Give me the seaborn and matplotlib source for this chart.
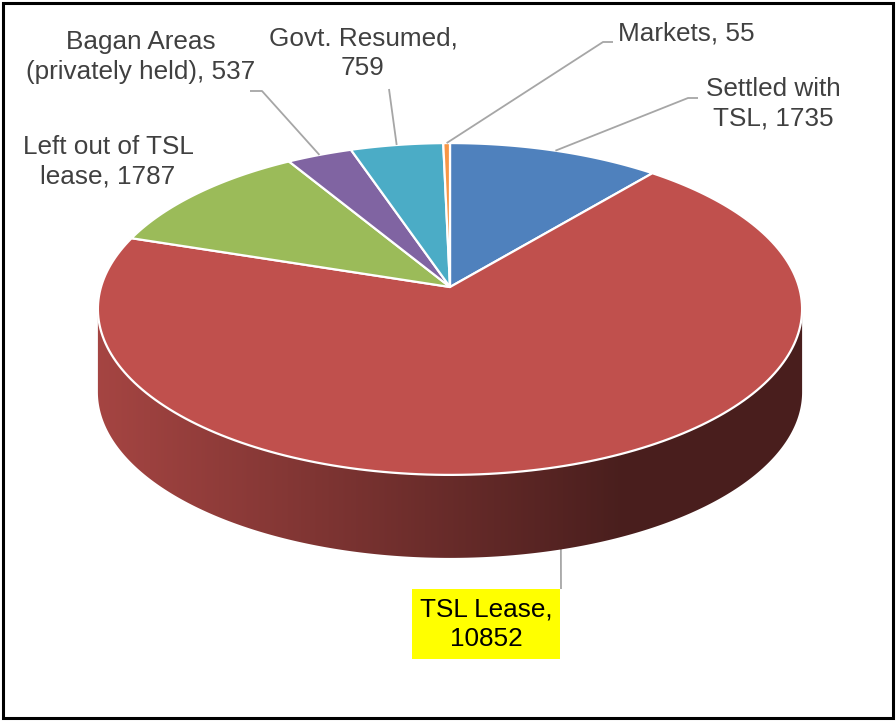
import numpy as np
import matplotlib
matplotlib.use("Agg")
import matplotlib.pyplot as plt
from matplotlib.patches import Polygon, Rectangle
import seaborn as sns

# --------------------------
# Data
# --------------------------
categories = ["Settled with\nTSL", "TSL Lease", "Left out of TSL\nlease",
              "Bagan Areas\n(privately held)", "Govt. Resumed", "Markets"]
values = [1735, 10852, 1787, 537, 759, 55]
colors = ["#4F81BD", "#C0504D", "#9BBB59", "#8064A2", "#4BACC6", "#F79646"]
label_texts = ["Settled with\nTSL, 1735", "TSL Lease,\n10852", "Left out of TSL\nlease, 1787",
               "Bagan Areas\n(privately held), 537", "Govt. Resumed,\n759", "Markets, 55"]

sns.set_theme(style="white")
plt.rcParams['font.family'] = ['Liberation Sans', 'DejaVu Sans']
palette = sns.color_palette(colors)

# --------------------------
# 3D pie geometry (pixel space)
# --------------------------
CX, CY = 450, 287      # apex of the pie
A, B = 349, 163        # horizontal / vertical radius
K = 0.1325             # perspective factor
DEPTH = 83             # thickness of the pie


def project(theta_deg):
    t = np.radians(theta_deg)
    u, v = np.cos(t), np.sin(t)
    s = 1 + K * v
    return CX + A * u / s, CY - B * v / s


vals = np.array(values, dtype=float)
total = vals.sum()
cum = np.concatenate([[0], np.cumsum(vals)])
starts = 90 - 360 * cum[:-1] / total
ends = 90 - 360 * cum[1:] / total
mids = (starts + ends) / 2

fig = plt.figure(figsize=(8.96, 7.21), dpi=100)
ax = fig.add_axes([0, 0, 1, 1])

# visible front wall spans from left silhouette to right silhouette
sil = np.degrees(np.arcsin(K))
vis_lo, vis_hi = -180 + sil, -sil


def shade_factor(x):
    return 0.86 - (0.86 - 0.385) * np.clip((x - 97) / (620 - 97), 0, 1)


# side wall with horizontal gradient, clipped to each slice's wall
for i in range(len(values)):
    hi, lo = starts[i], ends[i]
    for shift in (0, -360, 360):
        a0 = max(lo + shift, vis_lo)
        a1 = min(hi + shift, vis_hi)
        if a1 <= a0:
            continue
        th = np.linspace(a1, a0, 300)
        xs, ys = project(th)
        pts = list(zip(xs, ys)) + list(zip(xs[::-1], ys[::-1] + DEPTH))
        wall = Polygon(pts, closed=True, facecolor="none", edgecolor="none", zorder=2)
        ax.add_patch(wall)
        x0, x1 = xs.min() - 2, xs.max() + 2
        y0, y1 = ys.min() - 2, ys.max() + DEPTH + 2
        gx = np.linspace(x0, x1, 600)
        img = np.array(palette[i])[None, None, :] * shade_factor(gx)[None, :, None]
        im = ax.imshow(img, extent=(x0, x1, y1, y0), aspect="auto",
                       interpolation="bilinear", zorder=2)
        im.set_clip_path(wall)

# top faces
for i in range(len(values)):
    th = np.linspace(starts[i], ends[i], 200)
    xs, ys = project(th)
    pts = [(CX, CY)] + list(zip(xs, ys))
    ax.add_patch(Polygon(pts, closed=True, facecolor=palette[i], edgecolor="white",
                         lw=1.6, joinstyle="round", zorder=3))

ax.set_xlim(0, 896)
ax.set_ylim(721, 0)
ax.axis("off")

# --------------------------
# Labels and leader lines
# --------------------------
lead_c = "#A6A6A6"
txt_c = "#404040"
fs = 18.8

# (text x, text y, leader path points after the slice anchor)
label_pos = {
    0: (773, 104, [(688, 98), (698, 98)]),
    1: (486, 624, [(561, 589)]),
    2: (108, 162, None),
    3: (141, 57, [(262, 91), (250, 91)]),
    4: (363, 53, [(389, 89)]),
    5: (686, 34, [(603, 42), (613, 42)]),
}

for i, (tx, ty, path) in label_pos.items():
    if path is not None:
        ax_, ay_ = project(mids[i])
        px = [ax_] + [p[0] for p in path]
        py = [ay_] + [p[1] for p in path]
        ax.plot(px, py, color=lead_c, lw=1.3, zorder=1 if i == 1 else 4,
                solid_capstyle="butt")
    if i == 1:
        ax.text(tx, ty, label_texts[i], ha="center", va="center", fontsize=fs,
                color="black", linespacing=1.3, zorder=5,
                bbox=dict(boxstyle="square,pad=0.3", facecolor="#FFFF00",
                          edgecolor="none"))
    else:
        ax.text(tx, ty, label_texts[i], ha="center", va="center", fontsize=fs,
                color=txt_c, linespacing=1.3, zorder=5)

# frame round the chart
ax.add_patch(Rectangle((3, 3), 890, 715, fill=False, edgecolor="black", lw=2.2, zorder=6))

fig.savefig("out.png", dpi=100)
